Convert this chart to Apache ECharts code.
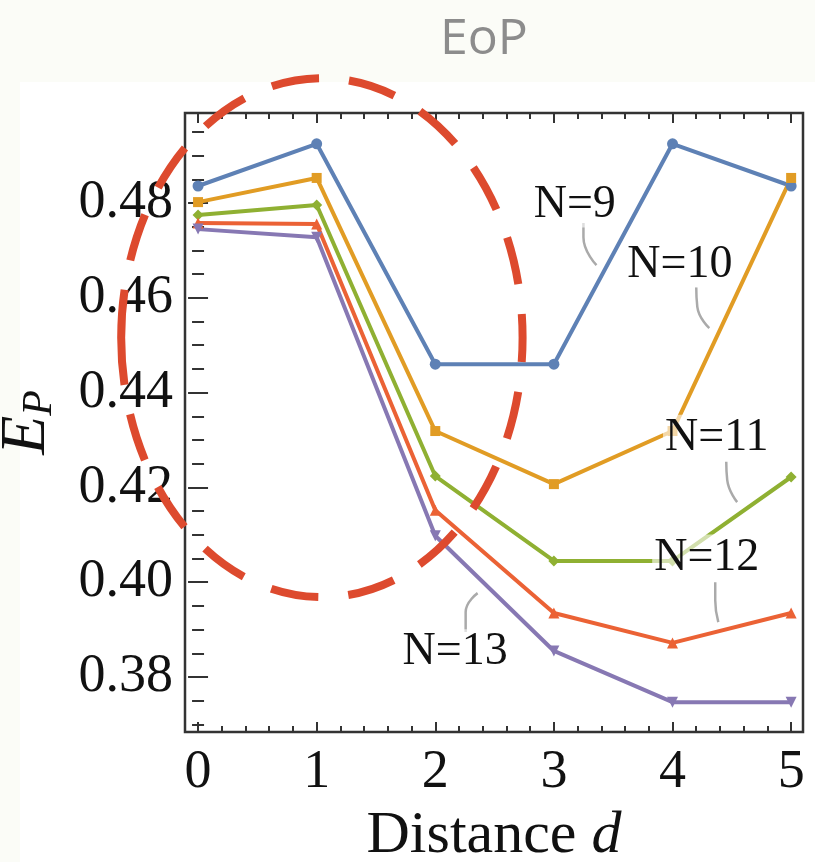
<!DOCTYPE html>
<html>
<head>
<meta charset="utf-8">
<script src="https://cdn.jsdelivr.net/npm/echarts@6/dist/echarts.min.js"></script>
<style>
html,body{margin:0;padding:0;background:#fbfcf7;}
#main{width:815px;height:862px;}
</style>
</head>
<body>
<div id="main"></div>
<script>
// ---- data ----
const distances = [0, 1, 2, 3, 4, 5];
const seriesNames = ['N=9', 'N=10', 'N=11', 'N=12', 'N=13'];
const valuesN9  = [0.4836, 0.4925, 0.4460, 0.4460, 0.4925, 0.4836];
const valuesN10 = [0.4802, 0.4853, 0.4319, 0.4207, 0.4319, 0.4853];
const valuesN11 = [0.4775, 0.4796, 0.4224, 0.4045, 0.4045, 0.4222];
const valuesN12 = [0.4758, 0.4756, 0.4152, 0.3935, 0.3872, 0.3935];
const valuesN13 = [0.4745, 0.4728, 0.4098, 0.3855, 0.3747, 0.3747];

const xMajorTicks = [0, 1, 2, 3, 4, 5];
const xMinorTicks = [0.2, 0.4, 0.6, 0.8, 1.2, 1.4, 1.6, 1.8, 2.2, 2.4, 2.6, 2.8, 3.2, 3.4, 3.6, 3.8, 4.2, 4.4, 4.6, 4.8];
const yMajorTicks = [0.38, 0.40, 0.42, 0.44, 0.46, 0.48];
const yMinorTicks = [0.37, 0.375, 0.385, 0.39, 0.395, 0.405, 0.41, 0.415, 0.425, 0.43, 0.435, 0.445, 0.45, 0.455, 0.465, 0.47, 0.475, 0.485, 0.49, 0.495];

// annotation text positions (data coords) and leader curves
const labelTexts = ['N=9', 'N=10', 'N=11', 'N=12', 'N=13'];
const labelX = [3.18, 4.066, 4.377, 4.293, 2.172];
const labelY = [0.4796, 0.4669, 0.4304, 0.4051, 0.3851];
const leaderN9  = [[3.249, 0.4758], [3.249, 0.4728], [3.359, 0.4669]];
const leaderN10 = [[4.200, 0.4623], [4.209, 0.4581], [4.310, 0.4536]];
const leaderN11 = [[4.453, 0.4254], [4.461, 0.4216], [4.545, 0.4169]];
const leaderN12 = [[4.360, 0.4000], [4.360, 0.3962], [4.386, 0.3916]];
const leaderN13 = [[2.256, 0.3895], [2.256, 0.3937], [2.357, 0.3977]];

// highlight ellipse in data coords: center, radii
const ellipseCenter = [1.044, 0.4516];
const ellipseRadius = [1.692, 0.05475];

// ---- styling ----
const colors = ['#5E81B5', '#E19C24', '#8FB032', '#EB6235', '#8778B3'];
const symbols = ['circle', 'rect', 'diamond', 'triangle', 'triangle'];
const symbolRot = [0, 0, 0, 0, 180];
const symbolSizes = [11, 10, 11, 11, 11];
const allValues = [valuesN9, valuesN10, valuesN11, valuesN12, valuesN13];
const leaders = [leaderN9, leaderN10, leaderN11, leaderN12, leaderN13];

const serif = '"Liberation Serif", "DejaVu Serif", serif';
const X_MIN = -0.11, X_MAX = 5.1, Y_MIN = 0.3684, Y_MAX = 0.499;

function xAx(pos, ticks, len, labels) {
  return {
    type: 'value', position: pos, min: X_MIN, max: X_MAX,
    axisLine: {show: false}, splitLine: {show: false},
    axisTick: {show: true, inside: true, length: len, customValues: ticks, lineStyle: {color: '#333', width: 2}},
    axisLabel: labels ? {show: true, customValues: ticks, fontFamily: serif, fontSize: 54, color: '#111', margin: 14} : {show: false}
  };
}
function yAx(pos, ticks, len, labels) {
  return {
    type: 'value', position: pos, min: Y_MIN, max: Y_MAX,
    axisLine: {show: false}, splitLine: {show: false},
    axisTick: {show: true, inside: true, length: len, customValues: ticks, lineStyle: {color: '#333', width: 2}},
    axisLabel: labels ? {show: true, customValues: ticks, fontFamily: serif, fontSize: 54, color: '#111', margin: 12,
      formatter: v => v.toFixed(2)} : {show: false}
  };
}

const xAxes = [xAx('bottom', xMajorTicks, 10, true), xAx('bottom', xMinorTicks, 6, false),
               xAx('top', xMajorTicks, 10, false), xAx('top', xMinorTicks, 6, false)];
xAxes[0].name = 'Distance {i|d}';
xAxes[0].nameLocation = 'middle';
xAxes[0].nameGap = 74;
xAxes[0].nameTextStyle = {fontFamily: serif, fontSize: 60, color: '#111',
  rich: {i: {fontFamily: serif, fontSize: 60, fontStyle: 'italic', color: '#111'}}};

const yAxes = [yAx('left', yMajorTicks, 10, true), yAx('left', yMinorTicks, 6, false),
               yAx('right', yMajorTicks, 10, false), yAx('right', yMinorTicks, 6, false)];
yAxes[0].name = '{e|E}{p|P}';
yAxes[0].nameLocation = 'middle';
yAxes[0].nameRotate = 90;
yAxes[0].nameGap = 124;
yAxes[0].nameTextStyle = {
  rich: {
    e: {fontFamily: serif, fontSize: 64, fontStyle: 'italic', color: '#111'},
    p: {fontFamily: serif, fontSize: 42, fontStyle: 'italic', color: '#111', padding: [26, 0, 0, 0]}
  }
};

const series = [];
allValues.forEach((vals, i) => {
  series.push({
    name: seriesNames[i], type: 'line', xAxisIndex: 0, yAxisIndex: 0,
    data: distances.map((d, k) => [d, vals[k]]),
    symbol: symbols[i], symbolRotate: symbolRot[i], symbolSize: symbolSizes[i], showSymbol: true,
    itemStyle: {color: colors[i]}, lineStyle: {color: colors[i], width: 4},
    z: 3, animation: false
  });
});
leaders.forEach((pts) => {
  series.push({
    type: 'line', xAxisIndex: 0, yAxisIndex: 0, data: pts, smooth: 0.5, symbol: 'none',
    lineStyle: {color: '#aaaaaa', width: 2.5}, z: 4, animation: false, silent: true
  });
});
series.push({
  type: 'scatter', xAxisIndex: 0, yAxisIndex: 0, symbolSize: 1,
  itemStyle: {color: '#ffffff', opacity: 0},
  data: labelTexts.map((t, i) => ({name: t, value: [labelX[i], labelY[i]]})),
  label: {show: true, position: [0, 0], align: 'center', verticalAlign: 'middle', formatter: p => p.name,
    fontFamily: serif, fontSize: 46, color: '#111', opacity: 1, textBorderWidth: 0,
    backgroundColor: 'rgba(255,255,255,0.6)', padding: [0, 2]},
  z: 5, animation: false, silent: true
});

const chart = echarts.init(document.getElementById('main'), null, {renderer: 'canvas'});
chart.setOption({
  backgroundColor: '#fbfcf7',
  animation: false,
  title: {text: 'EoP', left: 435, top: 10,
    textStyle: {fontFamily: '"Open Sans", "Noto Sans", sans-serif', fontSize: 50, fontWeight: 'normal', color: '#8c8c8c'}},
  grid: {left: 185, right: 12, top: 113, bottom: 130, show: true, borderColor: '#333', borderWidth: 2.5,
    backgroundColor: 'transparent', containLabel: false, outerBoundsMode: 'none'},
  xAxis: xAxes,
  yAxis: yAxes,
  series: series,
  graphic: [{type: 'rect', left: 20, top: 82, z: -100, shape: {width: 795, height: 780}, style: {fill: '#ffffff'}}]
});

const c = chart.convertToPixel({xAxisIndex: 0, yAxisIndex: 0}, ellipseCenter);
const e = chart.convertToPixel({xAxisIndex: 0, yAxisIndex: 0}, [ellipseCenter[0] + ellipseRadius[0], ellipseCenter[1] + ellipseRadius[1]]);
chart.setOption({
  graphic: [
    {type: 'rect', left: 20, top: 82, z: -100, shape: {width: 795, height: 780}, style: {fill: '#ffffff'}},
    {type: 'ellipse', z: 100, shape: {cx: c[0], cy: c[1], rx: e[0] - c[0], ry: c[1] - e[1]},
     style: {fill: 'none', stroke: '#dd4a2e', lineWidth: 8, lineDash: [48, 30]}}
  ]
}, {replaceMerge: ['graphic']});
</script>
</body>
</html>
